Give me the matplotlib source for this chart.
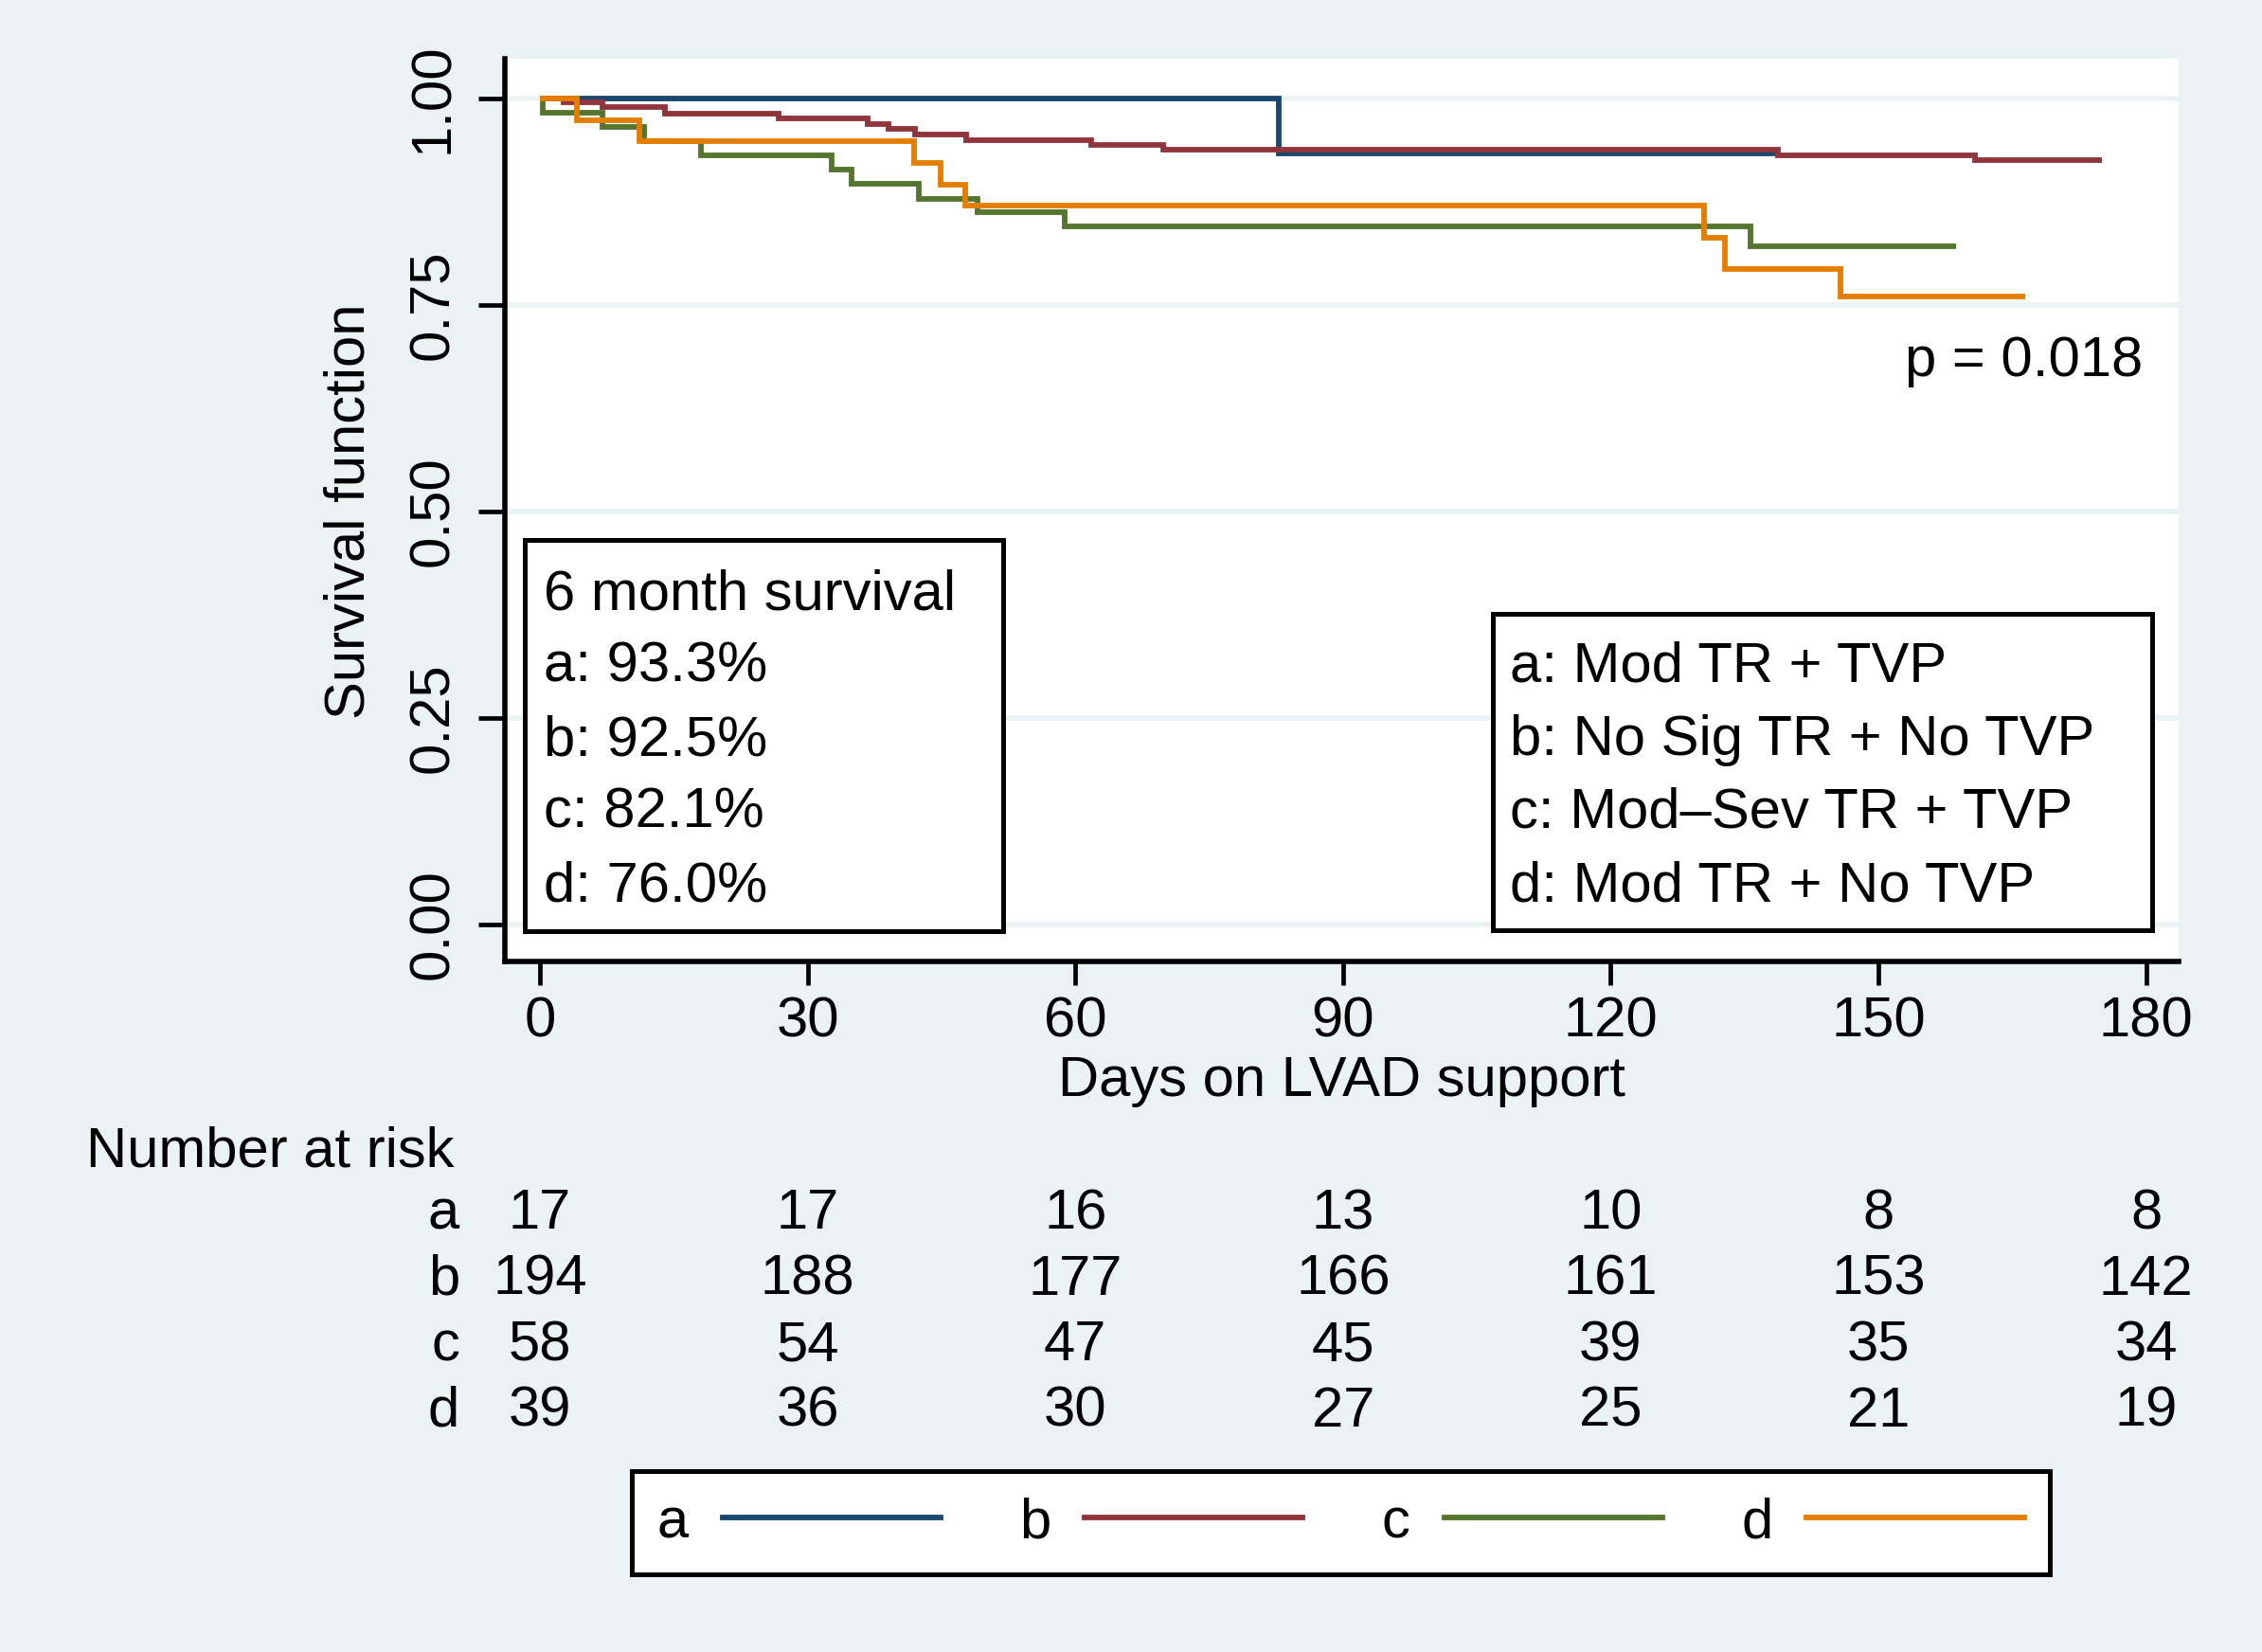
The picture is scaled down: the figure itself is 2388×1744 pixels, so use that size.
import matplotlib
matplotlib.use("Agg")
import matplotlib.pyplot as plt
from matplotlib.lines import Line2D
from matplotlib.patches import Rectangle
from matplotlib.transforms import blended_transform_factory

# ---- Kaplan-Meier step data (days, survival) ----
a_days = [0, 82.8, 138.5]
a_surv = [1.000, 0.933, 0.933]

b_days = [0, 2.7, 7.0, 14.0, 26.8, 36.7, 39.1, 42.0, 47.8, 61.8, 69.9, 138.7, 160.8, 175.0]
b_surv = [1.000, 0.995, 0.990, 0.982, 0.9755, 0.969, 0.963, 0.956, 0.950, 0.944, 0.938, 0.931, 0.925, 0.925]

c_days = [0, 0.3, 7.0, 11.7, 18.0, 32.7, 34.9, 42.5, 49.0, 58.8, 135.7, 158.7]
c_surv = [1.000, 0.983, 0.9655, 0.948, 0.931, 0.914, 0.897, 0.879, 0.862, 0.845, 0.821, 0.821]

d_days = [0, 4.1, 11.1, 41.9, 44.9, 47.7, 130.5, 132.8, 145.7, 166.4]
d_surv = [1.000, 0.974, 0.949, 0.922, 0.896, 0.870, 0.832, 0.794, 0.760, 0.760]

group_keys = ["a", "b", "c", "d"]
group_names = ["Mod TR + TVP", "No Sig TR + No TVP", "Mod\u2013Sev TR + TVP", "Mod TR + No TVP"]
six_month = ["93.3%", "92.5%", "82.1%", "76.0%"]
colors = ["#1A476F", "#90353B", "#55752F", "#E37E00"]

x_ticks = [0, 30, 60, 90, 120, 150, 180]
y_ticks = [0.00, 0.25, 0.50, 0.75, 1.00]
y_tick_labels = ["0.00", "0.25", "0.50", "0.75", "1.00"]

at_risk = {
    "a": [17, 17, 16, 13, 10, 8, 8],
    "b": [194, 188, 177, 166, 161, 153, 142],
    "c": [58, 54, 47, 45, 39, 35, 34],
    "d": [39, 36, 30, 27, 25, 21, 19],
}
p_text = "p = 0.018"

# ---- figure setup ----
W, H, DPI = 2388, 1744, 200
FS = 21.5
LW = 2.1
BG = "#EAF2F3"
plt.rcParams["font.family"] = ["Liberation Sans", "DejaVu Sans"]

fig = plt.figure(figsize=(W / DPI, H / DPI), dpi=DPI, facecolor=BG)


def fx(px):
    return px / W


def fy(py):
    return 1 - py / H


ax = fig.add_axes([fx(533), fy(1015), fx(2300) - fx(533), fy(62) - fy(1015)])
ax.set_facecolor("white")
ax.set_xlim(-3.93, 183.65)
ax.set_ylim(-0.0447, 1.0482)

series = [(a_days, a_surv), (b_days, b_surv), (c_days, c_surv), (d_days, d_surv)]
for (t, s), col in zip(series, colors):
    ax.step(t, s, where="post", color=col, lw=LW, solid_joinstyle="miter",
            solid_capstyle="butt", zorder=3)

ax.set_xticks(x_ticks)
ax.set_xticklabels([str(v) for v in x_ticks])
ax.set_yticks(y_ticks)
ax.set_yticklabels(y_tick_labels, rotation=90, va="center")
ax.yaxis.grid(True, color=BG, lw=2.0)
ax.xaxis.grid(False)
ax.set_axisbelow(True)

for side in ("top", "right"):
    ax.spines[side].set_visible(False)
for side in ("left", "bottom"):
    ax.spines[side].set_linewidth(2.0)
    ax.spines[side].set_color("black")

ax.tick_params(axis="x", length=9, width=1.7, pad=4, labelsize=FS, colors="black")
ax.tick_params(axis="y", length=10, width=1.7, pad=7.2, labelsize=FS, colors="black")

ax.set_xlabel("Days on LVAD support", fontsize=FS, labelpad=3)
ax.set_ylabel("Survival function", fontsize=FS)
ax.yaxis.set_label_coords(-0.077, 0.5, transform=blended_transform_factory(ax.transAxes, ax.transData))

# p-value
fig.text(fx(2262), fy(397), p_text, fontsize=FS, ha="right", va="baseline")

# six-month survival box
fig.patches.append(Rectangle((fx(553.5), fy(982.5)), fx(1058.5) - fx(553.5), fy(570.5) - fy(982.5),
                             transform=fig.transFigure, facecolor="white", edgecolor="black",
                             lw=1.8, zorder=2))
box_lines = ["6 month survival"] + [f"{k}: {v}" for k, v in zip(group_keys, six_month)]
for i, line in enumerate(box_lines):
    fig.text(fx(574), fy(643 + 77 * i), line, fontsize=FS, ha="left", va="baseline", zorder=4)

# group description box
fig.patches.append(Rectangle((fx(1575.5), fy(981.5)), fx(2271.5) - fx(1575.5), fy(648.5) - fy(981.5),
                             transform=fig.transFigure, facecolor="white", edgecolor="black",
                             lw=1.8, zorder=2))
for i, (k, name) in enumerate(zip(group_keys, group_names)):
    fig.text(fx(1594), fy(720 + 77 * i), f"{k}: {name}", fontsize=FS, ha="left", va="baseline", zorder=4)

# number at risk table
fig.text(fx(91), fy(1231), "Number at risk", fontsize=FS, ha="left", va="baseline")
risk_trans = blended_transform_factory(ax.transData, fig.transFigure)
for i, k in enumerate(group_keys):
    yb = fy(1297 + 69.5 * i)
    fig.text(fx(485), yb, k, fontsize=FS, ha="right", va="baseline")
    for xv, n in zip(x_ticks, at_risk[k]):
        fig.text(xv, yb, str(n), fontsize=FS, ha="center", va="baseline", transform=risk_trans)

# legend
handles = [Line2D([], [], color=c, lw=LW) for c in colors]
leg = fig.legend(handles, group_keys, ncol=4, markerfirst=False, loc="center",
                 bbox_to_anchor=(fx(1415.5), fy(1607.5)), bbox_transform=fig.transFigure,
                 frameon=True, fancybox=False, edgecolor="black", facecolor="white",
                 framealpha=1, fontsize=FS, handlelength=3.85, handletextpad=0.6,
                 columnspacing=1.4, borderpad=0.45)
leg.get_frame().set_linewidth(1.8)

fig.savefig("out.png", dpi=DPI, facecolor=BG)
